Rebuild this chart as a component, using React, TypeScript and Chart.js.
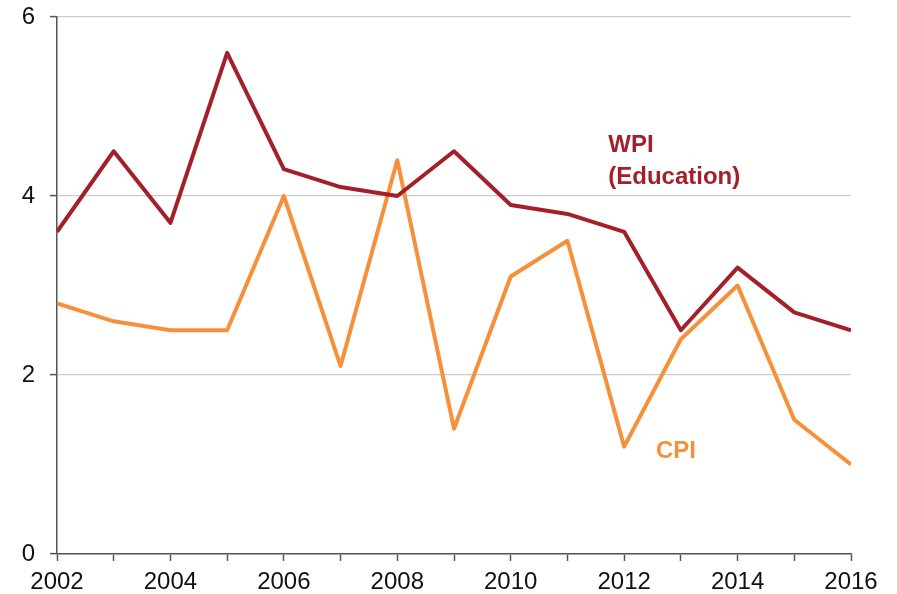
import React, { useEffect, useRef } from "react";
import { Chart, registerables } from "chart.js";

Chart.register(...registerables);

const years = [2002, 2003, 2004, 2005, 2006, 2007, 2008, 2009, 2010, 2011, 2012, 2013, 2014, 2015, 2016];
const wpiEducation = [3.6, 4.5, 3.7, 5.6, 4.3, 4.1, 4.0, 4.5, 3.9, 3.8, 3.6, 2.5, 3.2, 2.7, 2.5];
const cpi = [2.8, 2.6, 2.5, 2.5, 4.0, 2.1, 4.4, 1.4, 3.1, 3.5, 1.2, 2.4, 3.0, 1.5, 1.0];
const yTicks = [0, 2, 4, 6];

const WPI_COLOR = "#a3202b";
const CPI_COLOR = "#f6903a";
const FONT = "'Liberation Sans', Arial, sans-serif";

const seriesLabels = [
  { lines: ["WPI", "(Education)"], x: 2011.72, y: 4.57, color: WPI_COLOR },
  { lines: ["CPI"], x: 2012.56, y: 1.15, color: CPI_COLOR },
];

const labelPlugin = {
  id: "seriesLabels",
  afterDatasetsDraw(chart: any) {
    const { ctx, scales } = chart;
    ctx.save();
    ctx.font = `bold 24px ${FONT}`;
    ctx.textAlign = "left";
    ctx.textBaseline = "middle";
    for (const l of seriesLabels) {
      const px = scales.x.getPixelForValue(l.x);
      const py = scales.y.getPixelForValue(l.y);
      ctx.fillStyle = l.color;
      l.lines.forEach((t, i) => ctx.fillText(t, px, py + i * 32));
    }
    ctx.restore();
  },
};

export default function App() {
  const ref = useRef<HTMLCanvasElement>(null);
  useEffect(() => {
    if (!ref.current) return;
    const chart = new Chart(ref.current, {
      type: "line",
      data: {
        datasets: [
          {
            label: "WPI (Education)",
            data: years.map((y, i) => ({ x: y, y: wpiEducation[i] })),
            borderColor: WPI_COLOR,
            borderWidth: 4,
            pointRadius: 0,
            tension: 0,
            borderJoinStyle: "round",
          },
          {
            label: "CPI",
            data: years.map((y, i) => ({ x: y, y: cpi[i] })),
            borderColor: CPI_COLOR,
            borderWidth: 4,
            pointRadius: 0,
            tension: 0,
            borderJoinStyle: "round",
          },
        ],
      },
      options: {
        animation: false,
        responsive: false,
        maintainAspectRatio: false,
        layout: { padding: { left: 0, right: 46, top: 17, bottom: 0 } },
        plugins: { legend: { display: false }, tooltip: { enabled: false } },
        scales: {
          x: {
            type: "linear",
            min: 2002,
            max: 2016,
            afterBuildTicks: (axis: any) => {
              axis.ticks = years.map((v) => ({ value: v }));
            },
            ticks: {
              autoSkip: false,
              maxRotation: 0,
              padding: 7,
              color: "#111",
              font: { family: FONT, size: 24 },
              callback: (v: any) => (Number(v) % 2 === 0 ? String(v) : ""),
            },
            grid: {
              drawOnChartArea: false,
              drawTicks: true,
              tickLength: 7,
              tickColor: "#555",
              tickWidth: 1.5,
            },
            border: { color: "#555", width: 1.5 },
            afterFit: (axis: any) => {
              axis.height = 40;
              axis.paddingLeft = 0;
              axis.paddingRight = 0;
            },
          },
          y: {
            min: 0,
            max: 6,
            afterBuildTicks: (axis: any) => {
              axis.ticks = yTicks.map((v) => ({ value: v }));
            },
            ticks: {
              padding: 15,
              color: "#111",
              font: { family: FONT, size: 24 },
            },
            grid: {
              color: "#c9cdd1",
              lineWidth: 1.2,
              drawTicks: true,
              tickLength: 7,
              tickColor: "#555",
              tickWidth: 1.5,
            },
            border: { color: "#555", width: 1.5 },
            afterFit: (axis: any) => {
              axis.width = 57;
              axis.paddingTop = 0;
              axis.paddingBottom = 0;
            },
          },
        },
      },
      plugins: [labelPlugin],
    } as any);
    return () => chart.destroy();
  }, []);
  return (
    <div style={{ position: "fixed", left: 0, top: 0, width: 897, height: 594, background: "#fff" }}>
      <canvas ref={ref} width={897} height={594} style={{ display: "block" }} />
    </div>
  );
}
